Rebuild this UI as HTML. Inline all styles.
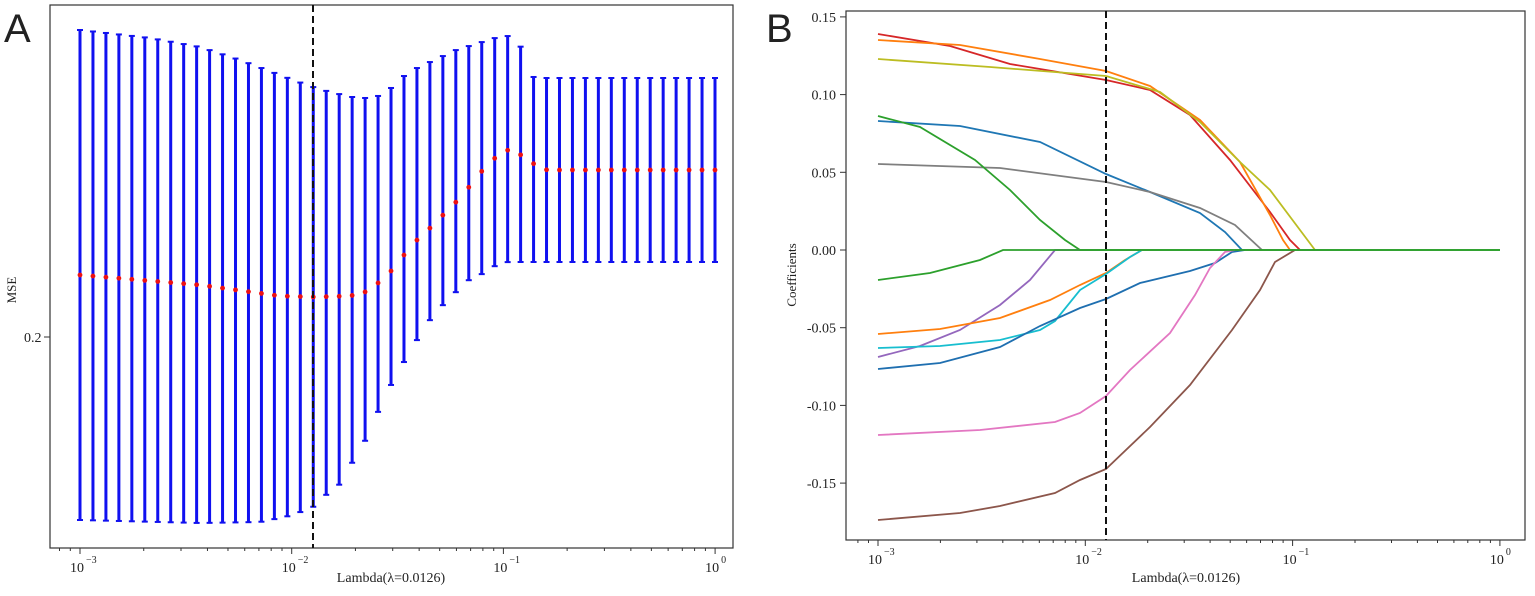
<!DOCTYPE html>
<html><head><meta charset="utf-8"><style>
html,body{margin:0;padding:0;background:#fff}
svg{display:block}
text{font-family:"Liberation Serif",serif;fill:#222}
</style></head><body>
<svg id="s" width="1535" height="596" viewBox="0 0 1535 596" xmlns="http://www.w3.org/2000/svg">
<text x="4" y="42" style="font-family:'Liberation Sans',sans-serif;font-size:40px" fill="#111">A</text>
<text x="766" y="42" style="font-family:'Liberation Sans',sans-serif;font-size:40px" fill="#111">B</text>
<rect x="50" y="5" width="683" height="543" fill="none" stroke="#333" stroke-width="1.2"/>
<rect x="846" y="11" width="679" height="529" fill="none" stroke="#333" stroke-width="1.2"/>
<text x="16" y="290" font-size="13" transform="rotate(-90 16 290)" text-anchor="middle">MSE</text>
<text x="24" y="342" font-size="14">0.2</text>
<line x1="44" y1="337" x2="50" y2="337" stroke="#333"/>
<text x="391" y="582" font-size="14" text-anchor="middle">Lambda(λ=0.0126)</text>
<text x="1186" y="582" font-size="14" text-anchor="middle">Lambda(λ=0.0126)</text>
<text x="796" y="275" font-size="13" transform="rotate(-90 796 275)" text-anchor="middle">Coefficients</text>
<g id="g"></g>
</svg>
<script>
var g=document.getElementById('g'),N='http://www.w3.org/2000/svg';
function el(t,a,txt){var e=document.createElementNS(N,t);for(var k in a)e.setAttribute(k,a[k]);if(txt!=null)e.textContent=txt;g.appendChild(e);return e;}
function interp(p,x){if(x<=p[0][0])return p[0][1];for(var i=1;i<p.length;i++){if(x<=p[i][0]){var a=p[i-1],b=p[i];return a[1]+(b[1]-a[1])*(x-a[0])/(b[0]-a[0]);}}return p[p.length-1][1];}
function xticks(x0,dec,yb,xl){for(var d=0;d<=3;d++){var x=x0+d*dec;el('line',{x1:x,y1:yb,x2:x,y2:yb+6,stroke:'#333'});
el('text',{x:x-10,y:yb+24,'font-size':14},'10');el('text',{x:x+6,y:yb+15,'font-size':10},d==0?'−3':d==1?'−2':d==2?'−1':'0');
if(d<3)for(var m=2;m<10;m++){var xm=x+Math.log10(m)*dec;el('line',{x1:xm,y1:yb,x2:xm,y2:yb+3,stroke:'#333'});}}
for(var m=7;m<10;m++){var xm=x0-dec+Math.log10(m)*dec;if(xm>xl+1)el('line',{x1:xm,y1:yb,x2:xm,y2:yb+3,stroke:'#333'});}}
xticks(80,211.7,548,50);xticks(878,207.3,540,846);
var red=[[80,275],[200,285],[280,296],[313,297],[350,296],[365,292],[378,283],[391,271],[404,255],[417,240],[430,228],[443,215],[456,202],[469,187],[482,171],[495,158],[508,150],[521,155],[534,164],[547,170]];
var top_=[[80,30],[150,38],[200,47],[240,60],[280,75],[293,80],[313,87],[330,92],[352,97],[365,98],[378,96],[391,88],[404,76],[417,68],[430,62],[443,56],[456,50],[469,46],[482,42],[495,38],[508,36],[521,47],[534,78]];
var bot=[[80,520],[200,523],[260,522],[280,518],[293,515],[313,507],[326,495],[339,485],[352,463],[365,441],[378,412],[391,385],[404,362],[417,340],[430,320],[443,305],[456,292],[469,280],[482,274],[495,266],[508,262]];
var dx=635/49;
for(var i=0;i<50;i++){var x=80+i*dx,t=interp(top_,x),b=interp(bot,x);
el('line',{x1:x,y1:t,x2:x,y2:b,stroke:'#1010f0','stroke-width':3});
el('line',{x1:x-3,y1:t,x2:x+3,y2:t,stroke:'#1010f0','stroke-width':2});
el('line',{x1:x-3,y1:b,x2:x+3,y2:b,stroke:'#1010f0','stroke-width':2});}
for(var i=0;i<50;i++){var x=80+i*dx;el('circle',{cx:x,cy:interp(red,x),r:2.4,fill:'#ee1111'});}
el('line',{x1:313,y1:5,x2:313,y2:548,stroke:'#111','stroke-width':2,'stroke-dasharray':'7,4'});
[[0.15,'0.15'],[0.10,'0.10'],[0.05,'0.05'],[0,'0.00'],[-0.05,'-0.05'],[-0.10,'-0.10'],[-0.15,'-0.15']].forEach(function(v){var y=250-v[0]*1554;
el('line',{x1:840,y1:y,x2:846,y2:y,stroke:'#333'});el('text',{x:836,y:y+5,'font-size':14,'text-anchor':'end'},v[1]);});
var C={
'#d62728':[[878,34],[950,46],[990,58],[1010,64],[1040,69],[1106,80],[1150,90],[1190,115],[1230,160],[1270,212],[1290,240],[1300,250]],
'#ff7f0e':[[878,40],[960,45],[1040,59],[1106,71],[1150,86],[1200,120],[1240,162],[1270,215],[1283,240],[1290,250]],
'#bcbd22':[[878,59],[990,67],[1106,76],[1160,92],[1200,122],[1240,162],[1270,190],[1300,230],[1315,250]],
'#1f77b4':[[878,121],[960,126],[1040,142],[1106,174],[1150,192],[1200,213],[1225,232],[1242,250]],
'#7f7f7f':[[878,164],[1000,168],[1106,182],[1150,192],[1200,208],[1235,225],[1262,250]],
'#2ca02c':[[878,116],[920,127],[975,160],[1010,190],[1040,220],[1065,240],[1080,250],[1500,250]],
'#9467bd':[[878,357],[920,346],[960,330],[1000,305],[1030,280],[1055,250],[1080,250]],
'#ff7f0e ':[[878,334],[940,329],[1000,318],[1050,300],[1080,285],[1106,273],[1125,260],[1142,250]],
'#17becf':[[878,348],[940,346],[1000,340],[1040,330],[1055,321],[1080,290],[1106,274],[1130,257],[1142,250]],
'#1f6fb0':[[878,369],[940,363],[1000,347],[1040,326],[1080,308],[1106,299],[1140,283],[1190,271],[1215,263],[1232,252],[1245,250]],
'#e377c2':[[878,435],[980,430],[1055,422],[1080,413],[1106,396],[1130,370],[1170,333],[1195,295],[1210,268],[1225,252],[1235,250]],
'#8c564b':[[878,520],[960,513],[1000,506],[1055,493],[1080,480],[1106,469],[1150,427],[1190,385],[1232,330],[1260,290],[1275,262],[1295,250]],
'#2ca02c ':[[878,280],[930,273],[980,260],[1003,250],[1500,250]]
};
for(var c in C){el('polyline',{points:C[c].map(function(p){return p.join(',')}).join(' '),fill:'none',stroke:c.trim(),'stroke-width':1.8});}
el('line',{x1:1106,y1:11,x2:1106,y2:540,stroke:'#111','stroke-width':2,'stroke-dasharray':'7,4'});
</script>
</body></html>
